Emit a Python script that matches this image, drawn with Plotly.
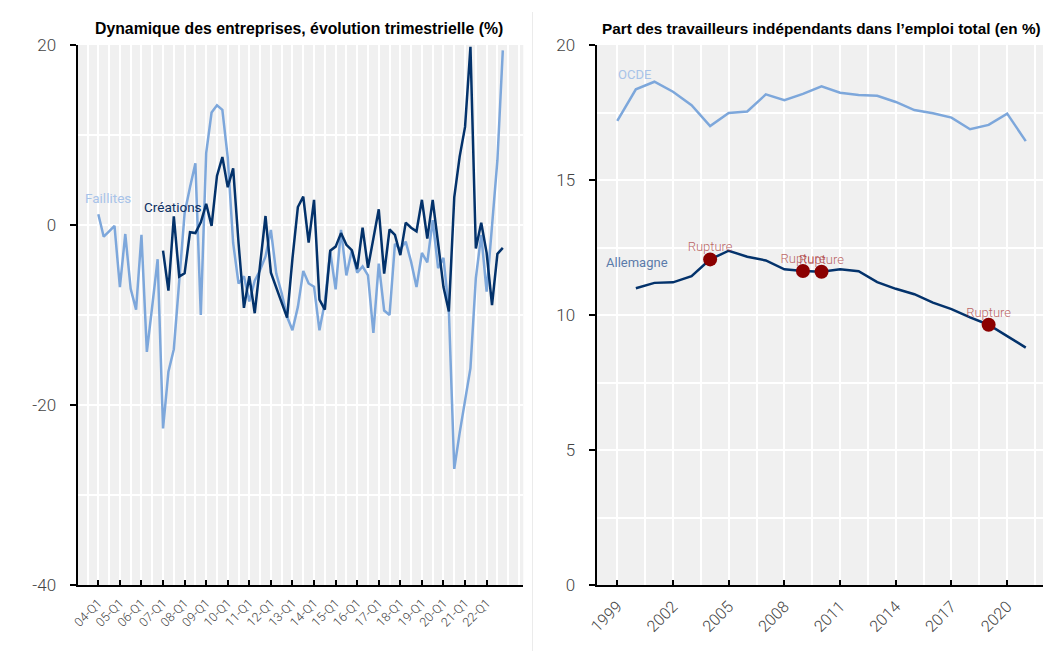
import plotly.graph_objects as go

# ---------------- Data ----------------
quarters = [f"{y:02d}-Q{q}" for y in range(4, 23) for q in range(1, 5)]  # 04-Q1 .. 22-Q4

faillites = [1.2, -1.3, -0.7, -0.1, -6.9, -1.0, -7.1, -9.4, -1.1, -14.1, -9.0, -3.8,
             -22.6, -16.3, -13.8, -5.8, 1.3, 4.2, 6.85, -10.0, 8.0, 12.5, 13.3, 12.8,
             7.5, -2.0, -6.5, -5.7, -8.5, -6.2, -5.0, -3.5, -0.55, -5.4, -7.6, -10.2,
             -11.7, -9.1, -5.1, -6.5, -6.85, -11.7, -8.6, -2.95, -7.15, -0.55, -5.6, -2.8,
             -5.3, -4.6, -5.6, -12.0, -4.3, -9.5, -10.0, -2.1, -2.7, -1.85, -4.1, -6.9,
             -3.1, -4.15, 0.55, -4.8, -3.65, -9.5, -27.1, -23.1, -19.4, -15.9, -5.9, -1.1,
             -7.4, -0.2, 7.2, 19.4]

creations = [None] * 12 + [-2.85, -7.3, 0.95, -5.74, -5.37, -0.8, -0.9, 0.3, 2.35, -0.1, 5.45, 7.55,
             4.2, 6.3, -2.0, -9.2, -5.7, -9.8, -4.4, 1.0, -5.3, -7.0, -8.5, -10.3,
             -3.7, 2.0, 3.15, -1.96, 2.8, -8.3, -9.4, -2.85, -2.4, -0.9, -2.2, -2.8,
             -4.9, -0.3, -4.75, -1.5, 1.75, -5.4, -0.5, -1.1, -3.35, 0.26, -0.3, -0.7,
             2.8, -1.5, 2.8, -2.0, -6.9, -9.6, 3.1, 7.6, 10.9, 19.8, -2.6, 0.26,
             -3.1, -8.9, -3.2, -2.55]

years = list(range(1999, 2022))
ocde = [17.19, 18.36, 18.64, 18.27, 17.77, 17.0, 17.48, 17.54, 18.17, 17.96, 18.19, 18.47,
        18.23, 18.15, 18.12, 17.89, 17.59, 17.47, 17.31, 16.88, 17.04, 17.46, 16.44]
allemagne_years = list(range(2000, 2022))
allemagne = [10.99, 11.19, 11.21, 11.44, 12.06, 12.38, 12.16, 12.02, 11.69, 11.63, 11.6,
             11.69, 11.62, 11.22, 10.97, 10.77, 10.46, 10.22, 9.91, 9.64, 9.22, 8.79]
rupture_years = [2004, 2009, 2010, 2019]

left_ticks = [q for q in quarters if q.endswith("Q1")]
left_yticks = [20, 0, -20, -40]
left_ytext = ["20", "0", "-20", "-40"]
right_ticks = list(range(1999, 2021, 3))
right_yticks = [0, 5, 10, 15, 20]

# ---------------- Styling ----------------
# page body has an 8px margin: figure pixel = screen pixel - 8
OFF = 8
W, H = 1051 - OFF, 659 - 2 * OFF
DARK = "#03326B"
LIGHT = "#7DA7DB"
BG = "#F0F0F0"
FONT = "Liberation Sans Narrow, Arial Narrow, Liberation Sans, sans-serif"
TICKFONT = "Roboto, Liberation Sans, sans-serif"


def px(x):
    return (x - OFF) / W


def py(y):
    return (H - (y - OFF)) / H


qidx = list(range(len(quarters)))
pos = {q: i for i, q in enumerate(quarters)}

fig = go.Figure()
fig.add_trace(go.Scatter(x=qidx, y=faillites, mode="lines", line=dict(color=LIGHT, width=2.5),
                         xaxis="x", yaxis="y", showlegend=False))
fig.add_trace(go.Scatter(x=qidx, y=creations, mode="lines", line=dict(color=DARK, width=2.5),
                         xaxis="x", yaxis="y", showlegend=False, connectgaps=False))

fig.add_trace(go.Scatter(x=years, y=ocde, mode="lines", line=dict(color=LIGHT, width=2.5),
                         xaxis="x2", yaxis="y2", showlegend=False))
fig.add_trace(go.Scatter(x=allemagne_years, y=allemagne, mode="lines", line=dict(color=DARK, width=2.5),
                         xaxis="x2", yaxis="y2", showlegend=False))
rupt_y = [allemagne[allemagne_years.index(y)] for y in rupture_years]
fig.add_trace(go.Scatter(x=rupture_years, y=rupt_y, mode="markers",
                         marker=dict(color="#8B0000", size=14),
                         xaxis="x2", yaxis="y2", showlegend=False))
fig.add_trace(go.Scatter(x=rupture_years, y=rupt_y, mode="markers+text",
                         marker=dict(color="rgba(0,0,0,0)", size=6),
                         text=["Rupture"] * len(rupture_years), textposition="top center",
                         textfont=dict(color="rgba(165,40,40,0.72)", size=13, family=TICKFONT, weight=300),
                         xaxis="x2", yaxis="y2", showlegend=False, hoverinfo="skip"))

ytop, ybot = py(45), py(585)

grid = dict(showgrid=True, gridcolor="white", gridwidth=1.5)
common_x = dict(showline=True, linecolor="black", linewidth=2, ticks="inside", ticklen=5,
                tickcolor="black", tickwidth=1.5, zeroline=False, tickangle=-45,
                automargin=False, ticklabelstandoff=4, **grid)
common_y = dict(showline=True, linecolor="black", linewidth=2, ticks="outside", ticklen=6,
                tickcolor="black", tickwidth=1.5, zeroline=False,
                tickfont=dict(family=TICKFONT, size=17, color="#444", weight=300),
                ticklabelstandoff=10, automargin=False, **grid)

fig.update_layout(
    width=W, height=H,
    margin=dict(l=0, r=0, t=0, b=0, autoexpand=False),
    paper_bgcolor="white", plot_bgcolor=BG,
    font=dict(family=FONT),
    xaxis=dict(domain=[px(77.5), px(523.3)], anchor="y", range=[-3.86, 78.8],
               tickmode="array", tickvals=[pos[q] for q in left_ticks], ticktext=left_ticks,
               minor=dict(dtick=2, tick0=0, **grid),
               tickfont=dict(family=TICKFONT, size=12.5, color="#444", weight=300),
               **common_x),
    yaxis=dict(domain=[ybot, ytop], anchor="x", range=[-40, 20],
               tickmode="array", tickvals=left_yticks, ticktext=left_ytext,
               minor=dict(dtick=10, **grid),
               **common_y),
    xaxis2=dict(domain=[px(596.5), 1.0], anchor="y2", range=[1997.88, 2022.36],
                tickmode="array", tickvals=right_ticks, ticktext=[str(t) for t in right_ticks],
                minor=dict(dtick=1.5, tick0=1999, **grid),
                tickfont=dict(family=TICKFONT, size=16, color="#444", weight=300),
                **common_x),
    yaxis2=dict(domain=[ybot, ytop], anchor="x2", range=[0, 20],
                tickmode="array", tickvals=right_yticks, ticktext=[str(t) for t in right_yticks],
                minor=dict(dtick=2.5, **grid),
                **common_y),
)

ann = [
    dict(text="<b>Dynamique des entreprises, évolution trimestrielle (%)</b>", x=px(299), y=py(29),
         xref="paper", yref="paper", xanchor="center", yanchor="middle", showarrow=False,
         font=dict(size=15.8, color="black", family=FONT)),
    dict(text="<b>Part des travailleurs indépendants dans l’emploi total (en %)</b>", x=px(821), y=py(29),
         xref="paper", yref="paper", xanchor="center", yanchor="middle", showarrow=False,
         font=dict(size=15.3, color="black", family=FONT)),
    dict(text="Faillites", x=1.8, y=3.0, xref="x", yref="y", showarrow=False,
         font=dict(size=13.5, color="#A8C3E8", family=TICKFONT)),
    dict(text="Créations", x=13.9, y=2.0, xref="x", yref="y", showarrow=False,
         font=dict(size=13.5, color="#0B2F63", family=TICKFONT)),
    dict(text="OCDE", x=1999.95, y=18.9, xref="x2", yref="y2", showarrow=False,
         font=dict(size=13, color="#A8C3E8", family=TICKFONT)),
    dict(text="Allemagne", x=2000.06, y=11.93, xref="x2", yref="y2", showarrow=False,
         font=dict(size=13, color="#5B7BAA", family=TICKFONT)),
]
fig.update_layout(annotations=ann)

fig.add_shape(type="line", xref="paper", yref="paper", x0=px(532.5), x1=px(532.5),
              y0=0, y1=py(12), line=dict(color="#EBEBEB", width=1))

fig.write_html("out.html")
